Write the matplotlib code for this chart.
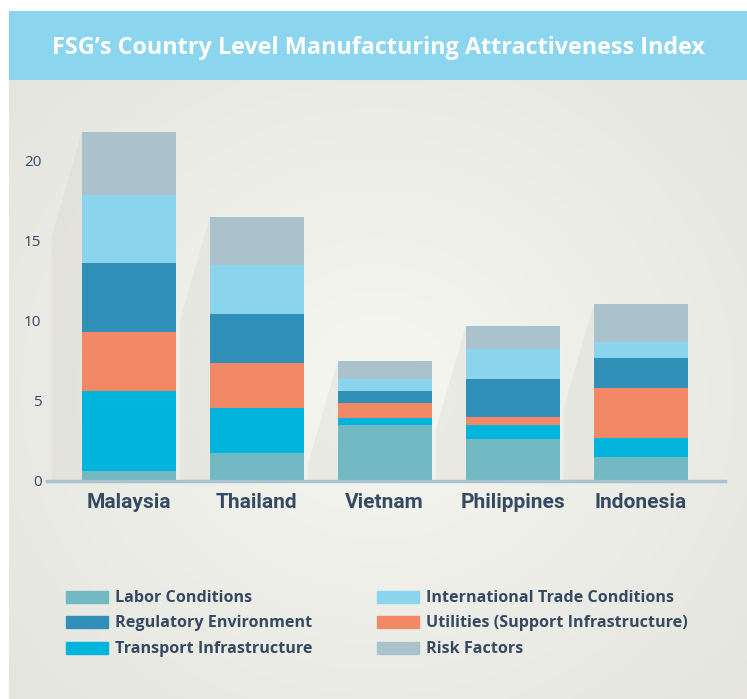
import numpy as np
import matplotlib
matplotlib.use("Agg")
import matplotlib.pyplot as plt
from matplotlib.patches import Rectangle, Polygon

countries = ["Malaysia", "Thailand", "Vietnam", "Philippines", "Indonesia"]
labor = [0.63, 1.77, 3.5, 2.63, 1.5]
transport = [4.97, 2.79, 0.44, 0.87, 1.19]
utilities = [3.7, 2.81, 0.94, 0.5, 3.12]
regulatory = [4.3, 3.07, 0.75, 2.38, 1.88]
trade = [4.3, 3.06, 0.75, 1.87, 1.0]
risk = [3.9, 3.0, 1.13, 1.44, 2.37]
yticks = [0, 5, 10, 15, 20]

series = [
    ("Labor Conditions", labor, "#72B9C4"),
    ("Transport Infrastructure", transport, "#00B4DC"),
    ("Utilities (Support Infrastructure)", utilities, "#F38866"),
    ("Regulatory Environment", regulatory, "#3190B8"),
    ("International Trade Conditions", trade, "#8BD4EE"),
    ("Risk Factors", risk, "#AAC2CC"),
]
title = "FSG\u2019s Country Level Manufacturing Attractiveness Index"
text_color = "#354A62"

W, H = 747, 699
fig = plt.figure(figsize=(W / 100, H / 100), dpi=100)
fig.patch.set_facecolor("white")

# background panel with soft radial gradient
bg = fig.add_axes([9 / W, 0, 1 - 9 / W, 1 - 11 / H])
bg.set_axis_off()
yy, xx = np.mgrid[0:1:300j, 0:1:300j]
r = np.sqrt(((xx - 0.5) / 0.75) ** 2 + ((yy - 0.45) / 0.75) ** 2)
r = np.clip(r, 0, 1)
c0 = np.array([0.968, 0.968, 0.945])
c1 = np.array([0.89, 0.89, 0.865])
img = c0[None, None, :] * (1 - r[..., None]) + c1[None, None, :] * r[..., None]
bg.imshow(img, aspect="auto", extent=[0, 1, 0, 1], origin="lower")
bg.set_xlim(0, 1)
bg.set_ylim(0, 1)

# title band
band = fig.add_axes([9 / W, (H - 80) / H, 1 - 9 / W, 69 / H])
band.set_axis_off()
band.add_patch(Rectangle((0, 0), 1, 1, transform=band.transAxes, color="#8CD5EE"))
band.text(0.5, 0.47, title, transform=band.transAxes, ha="center", va="center",
          color="white", fontsize=16.8, fontweight="bold", family="Open Sans")

# main chart
ax = fig.add_axes([47 / W, (H - 481) / H, (725 - 47) / W, 361 / H])
ax.patch.set_alpha(0)
x = np.arange(len(countries))
width = 0.734
bottom = np.zeros(len(countries))
for name, vals, col in series:
    ax.bar(x, vals, width, bottom=bottom, color=col, label=name, zorder=3, linewidth=0)
    bottom = bottom + np.array(vals)
totals = bottom

# soft shadows to the left of each bar
for xi, tot in zip(x, totals):
    xl = xi - width / 2
    corner = max(tot - 6.5, 0)
    poly = Polygon([(xl, tot), (xl - 0.234, corner), (xl - 0.234, 0), (xl, 0)],
                   closed=True, facecolor="#cfcfc8", alpha=0.25, edgecolor="none", zorder=1)
    ax.add_patch(poly)

ax.set_xlim(-0.64, 4.66)
ax.set_ylim(0, 22.56)
for s in ["top", "right", "left"]:
    ax.spines[s].set_visible(False)
ax.spines["bottom"].set_color("#A9C4CF")
ax.spines["bottom"].set_linewidth(2.5)
ax.spines["bottom"].set_zorder(4)
ax.set_yticks(yticks)
ax.set_yticklabels([str(t) for t in yticks], color=text_color, fontsize=11, family="Open Sans")
ax.tick_params(axis="y", length=0, pad=4)
ax.set_xticks(x)
ax.set_xticklabels(countries, color=text_color, fontsize=15, fontweight="bold",
                   family="Roboto")
ax.tick_params(axis="x", length=0, pad=9)

# legend (two columns, drawn in figure pixels)
legend_items = [
    (0, 0, 0), (3, 0, 1), (1, 0, 2),
    (4, 1, 0), (2, 1, 1), (5, 1, 2),
]
col_x = [66, 377]
row_y = [597, 622, 648]
for si, ci, ri in legend_items:
    name, vals, col = series[si]
    px, py = col_x[ci], row_y[ri]
    fig.patches.append(Rectangle((px / W, 1 - (py + 6) / H), 42 / W, 12 / H,
                                 transform=fig.transFigure, color=col))
    fig.text((px + 49) / W, 1 - (py + 1) / H, name, ha="left", va="center",
             color=text_color, fontsize=11.6, fontweight="bold", family="Open Sans")

fig.savefig("out.png", dpi=100)
